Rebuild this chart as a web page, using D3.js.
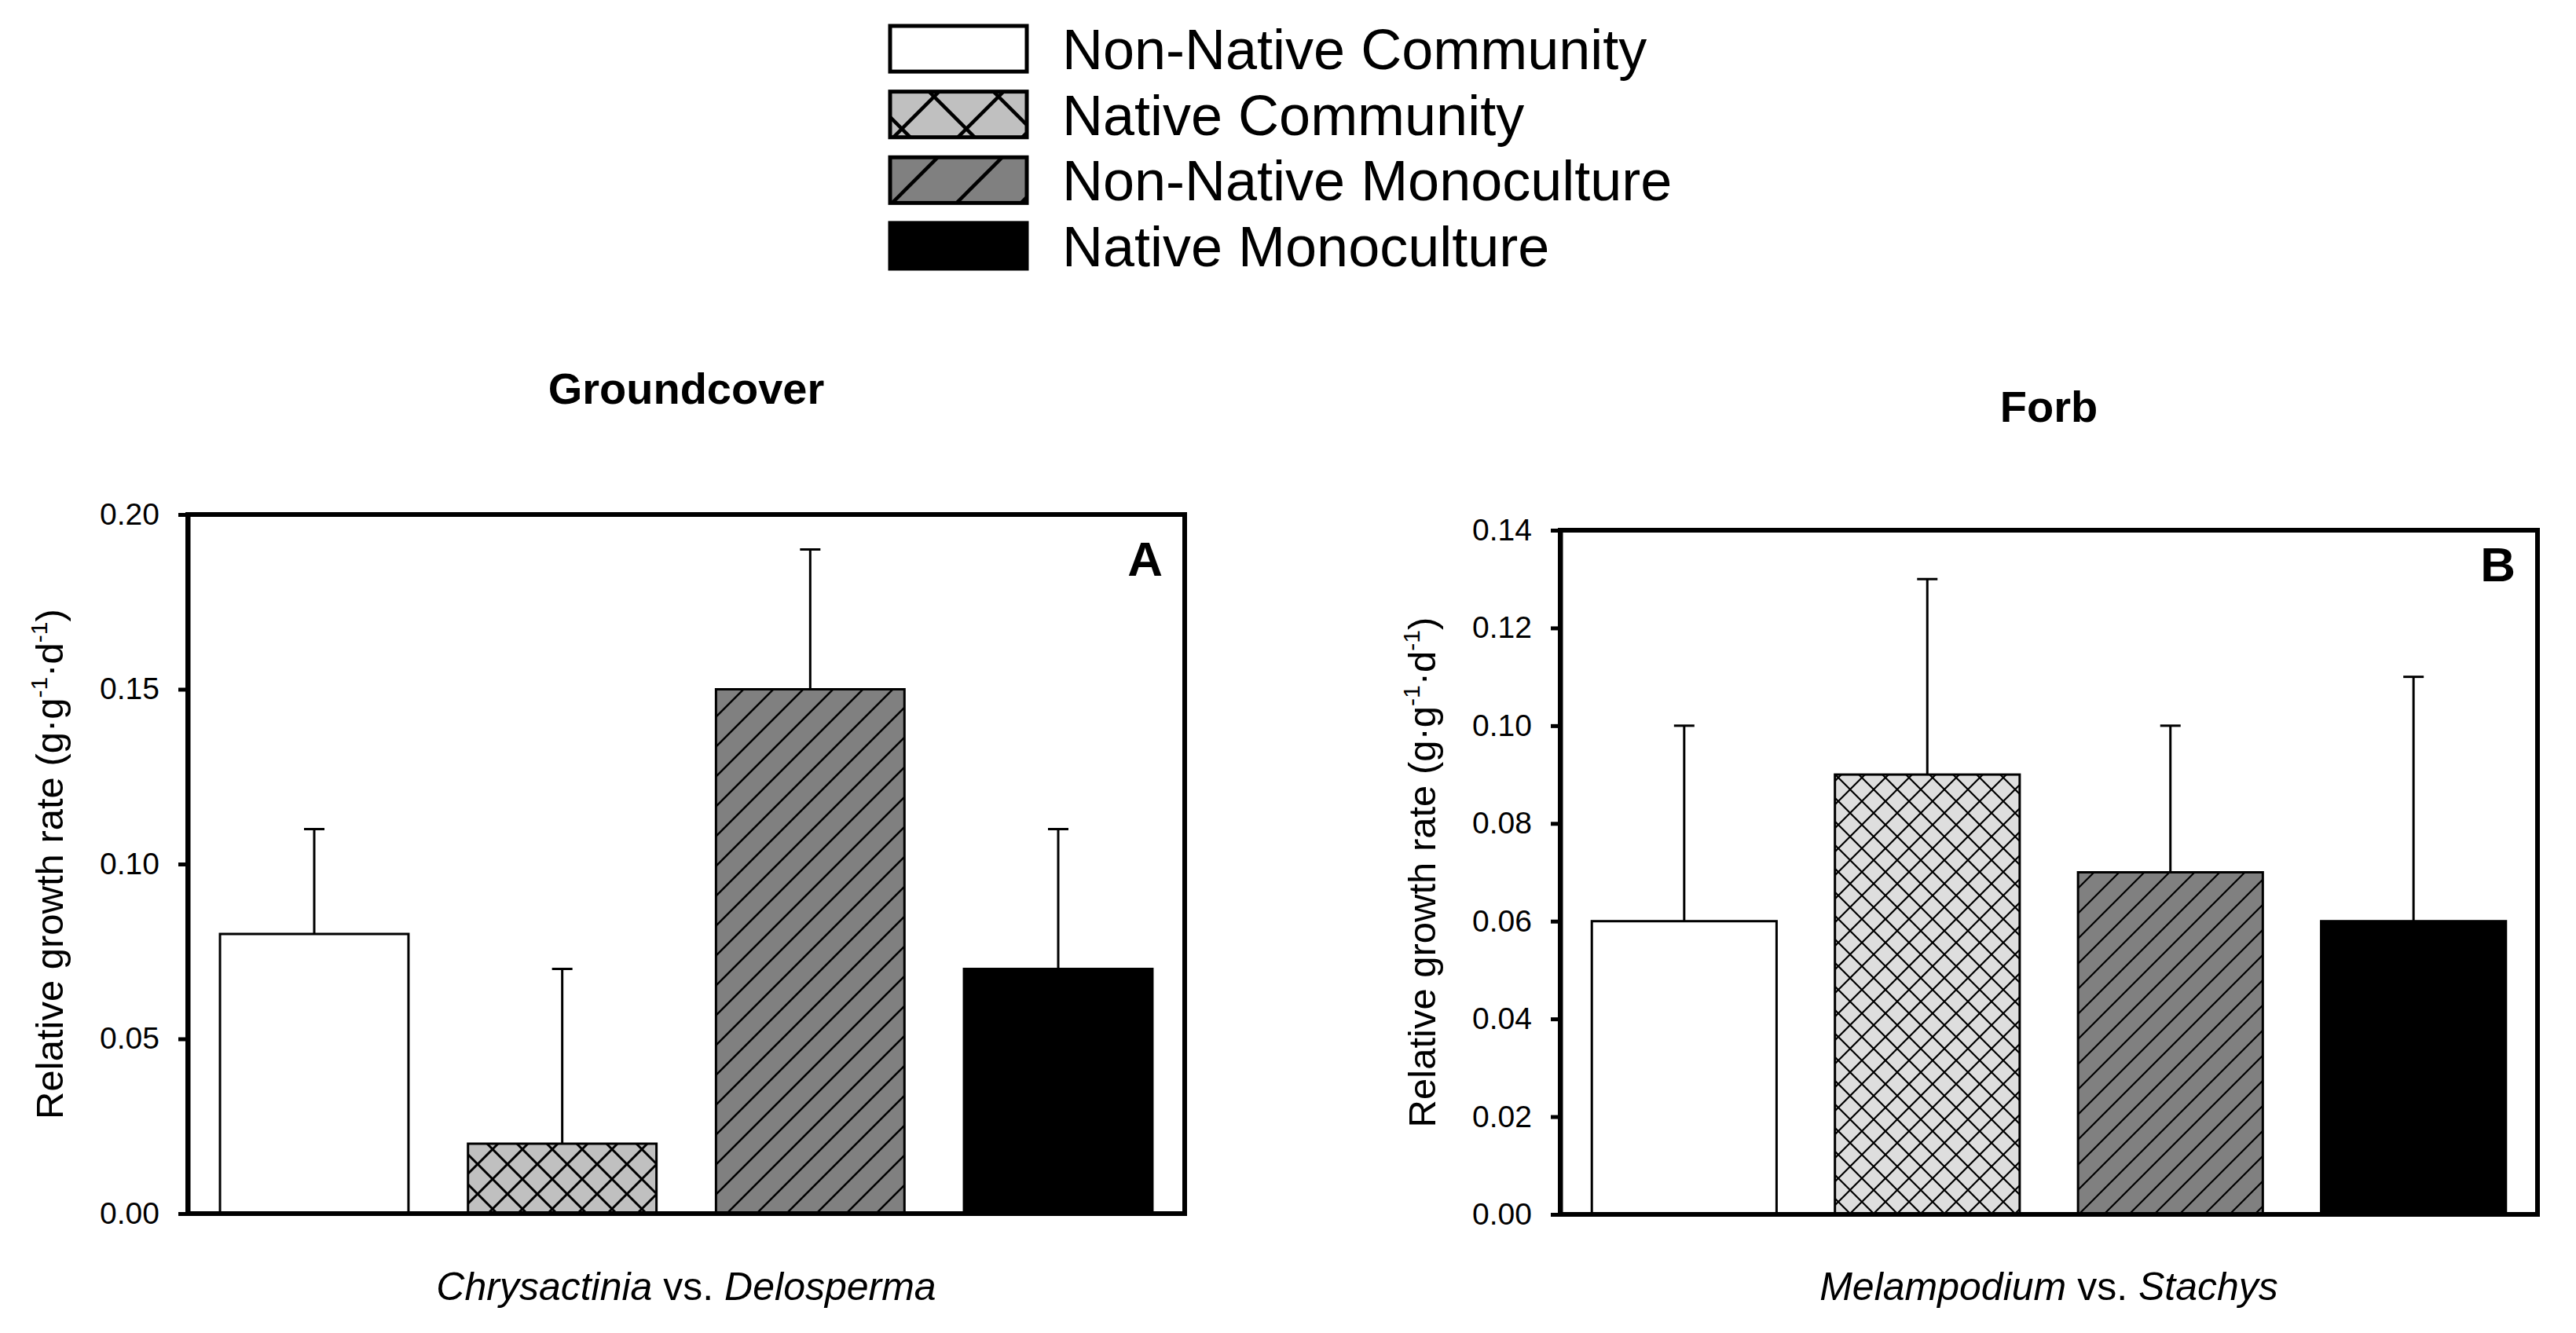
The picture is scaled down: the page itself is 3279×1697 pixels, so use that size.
<!DOCTYPE html>
<html>
<head>
<meta charset="utf-8">
<title>Relative growth rate</title>
<script src="https://d3js.org/d3.v7.min.js"></script>
<style>
  html, body { margin: 0; padding: 0; background: #fff; }
  svg { display: block; font-family: "Liberation Sans", Arial, sans-serif; }
</style>
</head>
<body>
<svg id="chart" width="3279" height="1697"></svg>
<script>

// treatments, in legend / bar order
var groups = ["Non-Native Community", "Native Community", "Non-Native Monoculture", "Native Monoculture"];

// panel A : groundcover (Chrysactinia vs. Delosperma)
var groundcoverMeans = [0.08, 0.02, 0.15, 0.07];
var groundcoverErr   = [0.03, 0.05, 0.04, 0.04];
var groundcoverTicks = [0, 0.05, 0.10, 0.15, 0.20];

// panel B : forb (Melampodium vs. Stachys)
var forbMeans = [0.06, 0.09, 0.07, 0.06];
var forbErr   = [0.04, 0.04, 0.03, 0.05];
var forbTicks = [0, 0.02, 0.04, 0.06, 0.08, 0.10, 0.12, 0.14];

var svg = d3.select("#chart");
var defs = svg.append("defs");

// hatch patterns (id, period, line width, fill, kind)
function hatch(id, p, lw, fill, kind) {
	var pat = defs.append("pattern")
		.attr("id", id)
		.attr("patternUnits", "userSpaceOnUse")
		.attr("width", p).attr("height", p);
	pat.append("rect").attr("width", p).attr("height", p).attr("fill", fill);
	var d = "M0," + p + " L" + p + ",0 M" + (-p/2) + "," + (p/2) + " L" + (p/2) + "," + (-p/2) +
		" M" + (p/2) + "," + (p*1.5) + " L" + (p*1.5) + "," + (p/2);
	if (kind == "cross") {
		d += " M0,0 L" + p + "," + p + " M" + (-p/2) + "," + (p/2) + " L" + (p/2) + "," + (p*1.5) +
			" M" + (p/2) + "," + (-p/2) + " L" + (p*1.5) + "," + (p/2);
	}
	pat.append("path").attr("d", d).attr("stroke", "#000").attr("stroke-width", lw).attr("fill", "none");
}
hatch("crossA", 38, 3, "#c0c0c0", "cross");
hatch("diagA", 38, 2.5, "#808080", "diag");
hatch("crossB", 30, 2.2, "#dedede", "cross");
hatch("diagB", 32, 2.2, "#808080", "diag");
hatch("crossL", 82, 4.5, "#c0c0c0", "cross");
hatch("diagL", 82, 4.5, "#808080", "diag");

// ---- legend ----
var legendFills = ["#fff", "url(#crossL)", "url(#diagL)", "#000"];
var legend = svg.append("g");
var ly = d3.scaleBand().domain(groups).range([33, 342]).paddingInner(0.305);
legend.selectAll("rect").data(groups).enter().append("rect")
	.attr("x", 1133).attr("y", function(d){ return ly(d); })
	.attr("width", 174).attr("height", ly.bandwidth())
	.attr("fill", function(d, i){ return legendFills[i]; })
	.attr("stroke", "#000").attr("stroke-width", 5);
legend.selectAll("text").data(groups).enter().append("text")
	.attr("x", 1352).attr("y", function(d){ return ly(d) + 55; })
	.attr("font-size", 72)
	.text(function(d){ return d; });

// ---- panels ----
function panel(o) {
	var x = d3.scaleBand().domain(groups).range([o.left, o.right]).paddingInner(0.24).paddingOuter(0.13);
	var y = d3.scaleLinear().domain([0, o.max]).range([o.bottom, o.top]);
	var g = svg.append("g");

	// bars
	g.selectAll("rect.bar").data(o.means).enter().append("rect")
		.attr("class", "bar")
		.attr("x", function(d, i){ return x(groups[i]); })
		.attr("y", function(d){ return y(d); })
		.attr("width", x.bandwidth())
		.attr("height", function(d){ return y(0) - y(d); })
		.attr("fill", function(d, i){ return o.fills[i]; })
		.attr("stroke", "#000").attr("stroke-width", 3);

	// error bars (upper only)
	var eb = g.selectAll("g.err").data(o.means).enter().append("g").attr("class", "err");
	eb.append("line")
		.attr("x1", function(d, i){ return x(groups[i]) + x.bandwidth()/2; })
		.attr("x2", function(d, i){ return x(groups[i]) + x.bandwidth()/2; })
		.attr("y1", function(d){ return y(d); })
		.attr("y2", function(d, i){ return y(d + o.err[i]); })
		.attr("stroke", "#000").attr("stroke-width", 3);
	eb.append("line")
		.attr("x1", function(d, i){ return x(groups[i]) + x.bandwidth()/2 - 13; })
		.attr("x2", function(d, i){ return x(groups[i]) + x.bandwidth()/2 + 13; })
		.attr("y1", function(d, i){ return y(d + o.err[i]); })
		.attr("y2", function(d, i){ return y(d + o.err[i]); })
		.attr("stroke", "#000").attr("stroke-width", 3);

	// frame
	g.append("rect")
		.attr("x", o.left).attr("y", o.top)
		.attr("width", o.right - o.left).attr("height", o.bottom - o.top)
		.attr("fill", "none").attr("stroke", "#000").attr("stroke-width", 6);

	// y axis
	var ax = g.append("g")
		.attr("transform", "translate(" + o.left + ",0)")
		.call(d3.axisLeft(y).tickValues(o.ticks).tickFormat(d3.format(".2f"))
			.tickSize(12).tickSizeOuter(0).tickPadding(24));
	ax.select(".domain").attr("stroke-width", 6);
	ax.selectAll(".tick line").attr("stroke-width", 5);
	ax.selectAll(".tick text").attr("font-size", 39).attr("font-family", "Liberation Sans, Arial, sans-serif");

	// y label
	var yl = g.append("text")
		.attr("transform", "translate(" + (o.left - 159) + "," + ((o.top + o.bottom)/2) + ") rotate(-90)")
		.attr("text-anchor", "middle")
		.attr("font-size", 49);
	yl.append("tspan").text("Relative growth rate (g\u00b7g");
	yl.append("tspan").attr("dy", -20).attr("font-size", 30).text("-1");
	yl.append("tspan").attr("dy", 20).text("\u00b7d");
	yl.append("tspan").attr("dy", -20).attr("font-size", 30).text("-1");
	yl.append("tspan").attr("dy", 20).text(")");

	// title
	g.append("text")
		.attr("x", (o.left + o.right)/2).attr("y", o.titleY)
		.attr("text-anchor", "middle").attr("font-size", 56).attr("font-weight", "bold")
		.text(o.title);

	// panel letter
	g.append("text")
		.attr("x", o.right - 28).attr("y", o.top + o.letterDy)
		.attr("text-anchor", "end").attr("font-size", 62).attr("font-weight", "bold")
		.text(o.letter);

	// x label
	var xl = g.append("text")
		.attr("x", (o.left + o.right)/2).attr("y", 1655)
		.attr("text-anchor", "middle").attr("font-size", 50);
	xl.append("tspan").attr("font-style", "italic").text(o.sp1);
	xl.append("tspan").text(" vs. ");
	xl.append("tspan").attr("font-style", "italic").text(o.sp2);
}

panel({
	left: 239, right: 1508, top: 655, bottom: 1545,
	max: 0.20, ticks: groundcoverTicks,
	means: groundcoverMeans, err: groundcoverErr,
	fills: ["#fff", "url(#crossA)", "url(#diagA)", "#000"],
	title: "Groundcover", titleY: 514,
	letter: "A", letterDy: 78,
	sp1: "Chrysactinia", sp2: "Delosperma"
});

panel({
	left: 1986, right: 3230, top: 675, bottom: 1546,
	max: 0.14, ticks: forbTicks,
	means: forbMeans, err: forbErr,
	fills: ["#fff", "url(#crossB)", "url(#diagB)", "#000"],
	title: "Forb", titleY: 537,
	letter: "B", letterDy: 65,
	sp1: "Melampodium", sp2: "Stachys"
});

</script>
</body>
</html>
